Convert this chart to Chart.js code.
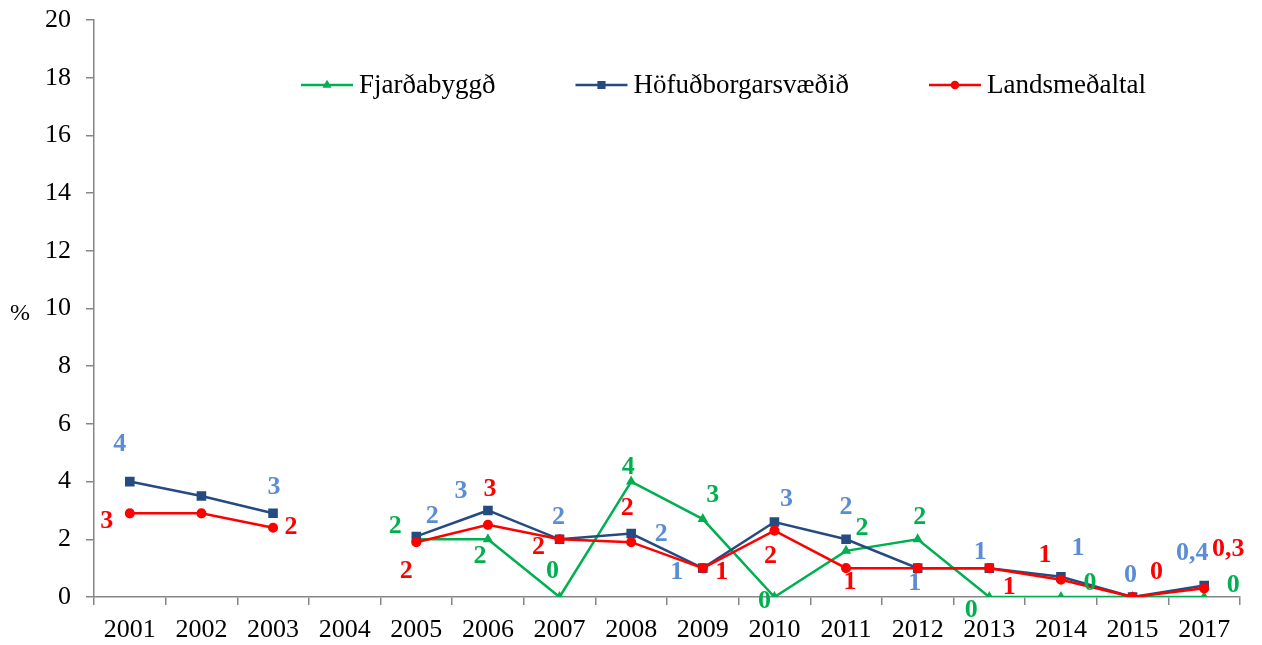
<!DOCTYPE html>
<html>
<head>
<meta charset="utf-8">
<script src="https://cdn.jsdelivr.net/npm/chart.js@4/dist/chart.umd.min.js"></script>
<style>
  html, body { margin: 0; padding: 0; background: #fff; }
  #wrap { width: 1262px; height: 645px; position: relative; }
</style>
</head>
<body>
<div id="wrap"><canvas id="c"></canvas></div>
<script>
const years = ["2001", "2002", "2003", "2004", "2005", "2006", "2007", "2008",
  "2009", "2010", "2011", "2012", "2013", "2014", "2015", "2017"];

const fjardabyggd = [null, null, null, null, 2.0, 2.0, 0, 4.0, 2.7, 0, 1.6, 2.0, 0, 0, 0, 0];
const hofudborg = [4.0, 3.5, 2.9, null, 2.1, 3.0, 2.0, 2.2, 1.0, 2.6, 2.0, 1.0, 1.0, 0.7, 0, 0.4];
const landsmedaltal = [2.9, 2.9, 2.4, null, 1.9, 2.5, 2.0, 1.9, 1.0, 2.3, 1.0, 1.0, 1.0, 0.6, 0, 0.3];

// data labels as printed on the chart
const fjardLabels = [null, null, null, null, "2", "2", "0", "4", "3", "0", "2", "2", "0", "0", null, "0"];
const hofudLabels = ["4", null, "3", null, "2", "3", "2", "2", "1", "3", "2", "1", "1", "1", "0", "0,4"];
const landsLabels = ["3", null, "2", null, "2", "3", "2", "2", "1", "2", "1", null, "1", "1", "0", "0,3"];

const yTicks = { min: 0, max: 20, step: 2 };

// label offsets from the point (px)
const fjardOff = [null, null, null, null, [-21, -13], [-8, 17], [-7, -26], [-3, -14], [10, -24],
  [-10, 4], [16, -23], [2, -22], [-18, 13], [29, -14], null, [29, -12]];
const hofudOff = [[-10, -37], null, [1, -26], null, [16, -20], [-27, -19], [-1, -22], [30, 1],
  [-26, 4], [12, -23], [0, -32], [-3, 15], [-9, -16], [17, -29], [-2, -22], [-12, -32]];
const landsOff = [[-23, 8], null, [18, 0], null, [-10, 29], [2, -36], [-21, 8], [-4, -34],
  [19, 4], [-4, 26], [4, 14], null, [20, 19], [-16, -24], [24, -25], [24, -39]];

const SERIF = '"Liberation Serif", "Times New Roman", serif';
const AXIS = "#868686";

const datasets = [
  {
    label: "Fjarðabyggð", data: fjardabyggd, borderColor: "#00B050", backgroundColor: "#00B050",
    pointStyle: "triangle", pointRadius: 3.5, order: 2,
    _labels: fjardLabels, _off: fjardOff, _labelColor: "#00B050",
  },
  {
    label: "Höfuðborgarsvæðið", data: hofudborg, borderColor: "#254B80", backgroundColor: "#254B80",
    pointStyle: "rect", pointRadius: 5, order: 1,
    _labels: hofudLabels, _off: hofudOff, _labelColor: "#5B8DD6",
  },
  {
    label: "Landsmeðaltal", data: landsmedaltal, borderColor: "#FF0000", backgroundColor: "#FF0000",
    pointStyle: "circle", pointRadius: 3.8, order: 0,
    _labels: landsLabels, _off: landsOff, _labelColor: "#FF0000",
  },
].map((d) => ({ ...d, borderWidth: 2.5, spanGaps: false, tension: 0, pointHoverRadius: d.pointRadius }));

const extras = {
  id: "extras",
  afterDatasetsDraw(chart) {
    const ctx = chart.ctx;
    ctx.save();
    ctx.textAlign = "center";
    ctx.textBaseline = "middle";
    ctx.font = "bold 26px " + SERIF;
    chart.data.datasets.forEach((ds, di) => {
      const meta = chart.getDatasetMeta(di);
      ds._labels.forEach((txt, i) => {
        if (txt === null || !ds._off[i]) return;
        const p = meta.data[i];
        ctx.fillStyle = ds._labelColor;
        ctx.fillText(txt, p.x + ds._off[i][0], p.y + ds._off[i][1]);
      });
    });

    // legend
    ctx.font = "27px " + SERIF;
    ctx.textAlign = "left";
    let x = 301;
    const y = 85;
    chart.data.datasets.forEach((ds) => {
      ctx.strokeStyle = ds.borderColor;
      ctx.lineWidth = 2.5;
      ctx.beginPath();
      ctx.moveTo(x, y);
      ctx.lineTo(x + 52, y);
      ctx.stroke();
      Chart.helpers.drawPoint(ctx, { pointStyle: ds.pointStyle, radius: ds.pointRadius * 0.8, borderWidth: 1 }, x + 26, y);
      ctx.fillStyle = ds.borderColor;
      ctx.fill();
      ctx.fillStyle = "#000";
      ctx.fillText(ds.label, x + 58, y + 1);
      x += 58 + ctx.measureText(ds.label).width + 80;
    });

    // y unit
    ctx.font = "24px " + SERIF;
    ctx.textAlign = "center";
    ctx.fillText("%", 20, 314);
    ctx.restore();
  },
};

new Chart(document.getElementById("c"), {
  type: "line",
  data: { labels: years, datasets },
  plugins: [extras],
  options: {
    responsive: true,
    maintainAspectRatio: false,
    animation: false,
    events: [],
    layout: { padding: { top: 20, right: 22, left: 0, bottom: 0 } },
    plugins: { legend: { display: false }, tooltip: { enabled: false } },
    scales: {
      x: {
        offset: true,
        grid: { offset: true, drawOnChartArea: false, drawTicks: true, tickLength: 8, color: AXIS, lineWidth: 1.5 },
        border: { display: true, color: AXIS, width: 1.5 },
        ticks: { color: "#000", font: { family: SERIF, size: 26 }, padding: 10, maxRotation: 0, autoSkip: false },
        afterFit: (s) => { s.height = 48; s.paddingLeft = 0; s.paddingRight = 0; },
      },
      y: {
        min: yTicks.min,
        max: yTicks.max,
        grid: { drawOnChartArea: false, drawTicks: true, tickLength: 8, color: AXIS, lineWidth: 1.5 },
        border: { display: true, color: AXIS, width: 1.5 },
        ticks: { stepSize: yTicks.step, color: "#000", font: { family: SERIF, size: 26 }, padding: 15 },
        afterFit: (s) => { s.width = 94; s.paddingTop = 0; s.paddingBottom = 0; },
      },
    },
  },
});
</script>
</body>
</html>
